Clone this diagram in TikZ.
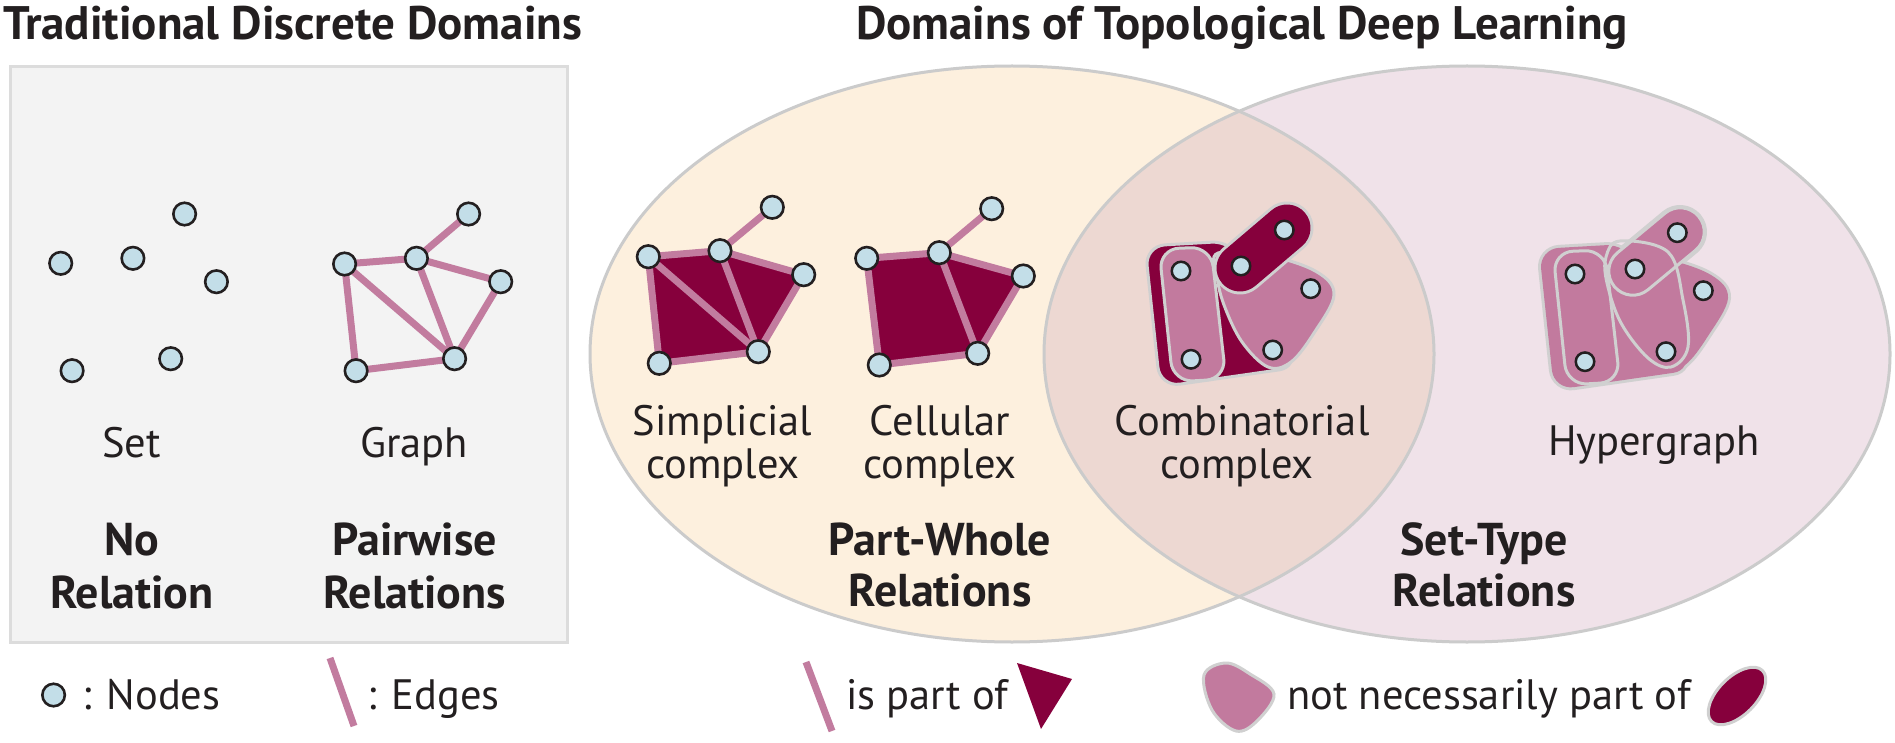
\documentclass[tikz,border=0pt]{standalone}
\usepackage{fontspec}
\setmainfont{PT Sans}
\pgfdeclarelayer{back}
\pgfdeclarelayer{mid}
\pgfsetlayers{back,mid,main}
\definecolor{txt}{HTML}{231F20}
\definecolor{nodefill}{HTML}{C3DEE8}
\definecolor{nodeline}{HTML}{231F20}
\definecolor{edgepink}{HTML}{C27C9F}
\definecolor{pinkc}{HTML}{C27A9E}
\definecolor{maroonc}{HTML}{86003C}
\definecolor{outl}{HTML}{D0D0D0}
\definecolor{boxfill}{HTML}{F3F3F3}
\definecolor{boxline}{HTML}{DCDCDC}
\definecolor{peach}{HTML}{FDF0DE}
\definecolor{lilac}{HTML}{F0E2E9}
\definecolor{overlapc}{HTML}{EDD8D2}
\definecolor{venline}{HTML}{CBCBCB}
\begin{document}
\begin{tikzpicture}[x=1pt,y=-1pt,
  vtx/.style={circle,draw=nodeline,line width=2.6pt,fill=nodefill,minimum size=22.5pt,inner sep=0pt},
  svtx/.style={vtx,minimum size=18.5pt,line width=2.5pt},
  edg/.style={draw=edgepink,line width=7pt},
  shp/.style={draw=outl,line width=3pt},
  lbl/.style={font=\fontsize{42.5}{44}\selectfont,text=txt,inner sep=0pt,anchor=base},
  bld/.style={font=\fontsize{46}{52}\selectfont\bfseries,text=txt,inner sep=0pt,anchor=base},
  ttl/.style={font=\fontsize{47}{52}\selectfont\bfseries,text=txt,inner sep=0pt,anchor=base},
]
\useasboundingbox (0,0) rectangle (1895,743);

% ---------------- background: box and Venn ----------------
\begin{pgfonlayer}{back}
  \fill[white] (0,0) rectangle (1895,743);
  \draw[boxline,fill=boxfill,line width=3pt] (10,67) rectangle (567,642);
  \fill[peach] (1012,354) ellipse [x radius=422, y radius=288];
  \fill[lilac] (1467,354) ellipse [x radius=423, y radius=288];
  \begin{scope}
    \clip (1012,354) ellipse [x radius=422, y radius=288];
    \fill[overlapc] (1467,354) ellipse [x radius=423, y radius=288];
  \end{scope}
  \draw[venline,line width=3pt] (1012,354) ellipse [x radius=422, y radius=288];
  \draw[venline,line width=3pt] (1467,354) ellipse [x radius=423, y radius=288];
\end{pgfonlayer}

% ---------------- titles ----------------
\node[ttl,anchor=base west] (t1) at (3,40) {Traditional Discrete Domains};
\node[ttl] (t2) at (1242,40) {Domains of Topological Deep Learning};

% ---------------- Set ----------------
\node[vtx] (s1) at (60.7,263.3) {};
\node[vtx] (s2) at (132.9,258.3) {};
\node[vtx] (s3) at (184.6,214) {};
\node[vtx] (s4) at (216.4,281.7) {};
\node[vtx] (s5) at (72.1,370.7) {};
\node[vtx] (s6) at (170.7,358.7) {};

% ---------------- Graph ----------------
\node[vtx] (g1) at (344.6,264) {};
\node[vtx] (g2) at (416.4,258.3) {};
\node[vtx] (g3) at (468.6,214) {};
\node[vtx] (g4) at (500.7,281.7) {};
\node[vtx] (g5) at (356.1,370.7) {};
\node[vtx] (g6) at (454.6,358.7) {};
\begin{pgfonlayer}{mid}
  \draw[edg] (g1.center) -- (g2.center);
  \draw[edg] (g2.center) -- (g3.center);
  \draw[edg] (g2.center) -- (g4.center);
  \draw[edg] (g1.center) -- (g6.center);
  \draw[edg] (g2.center) -- (g6.center);
  \draw[edg] (g4.center) -- (g6.center);
  \draw[edg] (g1.center) -- (g5.center);
  \draw[edg] (g5.center) -- (g6.center);
\end{pgfonlayer}

% ---------------- Simplicial complex ----------------
\node[vtx] (p1) at (648.3,256.7) {};
\node[vtx] (p2) at (720,250.7) {};
\node[vtx] (p3) at (772.3,207.3) {};
\node[vtx] (p4) at (803.7,274.7) {};
\node[vtx] (p5) at (659.3,363.3) {};
\node[vtx] (p6) at (758.3,351.7) {};
\begin{pgfonlayer}{mid}
  \fill[maroonc] (p1.center) -- (p2.center) -- (p4.center) -- (p6.center) -- (p5.center) -- cycle;
  \draw[edg] (p1.center) -- (p2.center);
  \draw[edg] (p2.center) -- (p3.center);
  \draw[edg] (p2.center) -- (p4.center);
  \draw[edg] (p4.center) -- (p6.center);
  \draw[edg] (p6.center) -- (p5.center);
  \draw[edg] (p5.center) -- (p1.center);
  \draw[edg] (p1.center) -- (p6.center);
  \draw[edg] (p2.center) -- (p6.center);
\end{pgfonlayer}

% ---------------- Cellular complex ----------------
\node[vtx] (c1) at (866.7,258.3) {};
\node[vtx] (c2) at (939.3,252.7) {};
\node[vtx] (c3) at (991.7,208.7) {};
\node[vtx] (c4) at (1023.3,276) {};
\node[vtx] (c5) at (879.3,365) {};
\node[vtx] (c6) at (977.7,353.3) {};
\begin{pgfonlayer}{mid}
  \fill[maroonc] (c1.center) -- (c2.center) -- (c4.center) -- (c6.center) -- (c5.center) -- cycle;
  \draw[edg] (c1.center) -- (c2.center);
  \draw[edg] (c2.center) -- (c3.center);
  \draw[edg] (c2.center) -- (c4.center);
  \draw[edg] (c4.center) -- (c6.center);
  \draw[edg] (c6.center) -- (c5.center);
  \draw[edg] (c5.center) -- (c1.center);
  \draw[edg] (c2.center) -- (c6.center);
\end{pgfonlayer}

% ---------------- Combinatorial complex ----------------
\coordinate (ka) at (1240,268);
\coordinate (kb) at (1287,228);
\begin{pgfonlayer}{mid}
  \draw[shp,fill=maroonc,rounded corners=20pt] (1145,246) -- (1232,241) -- (1299,367) -- (1160,387) -- cycle;
  \draw[shp,fill=pinkc,rounded corners=20pt] (1159,249) -- (1211,247) -- (1226,379) -- (1173,382) -- cycle;
  \draw[shp,fill=pinkc] plot[smooth cycle,tension=0.6] coordinates {(1218,253) (1270,256) (1317,272) (1334,295) (1314,333) (1291,362) (1268,367) (1242,342) (1224,305) (1217,276)};
  \draw[outl,line width=53pt,line cap=round] (ka) -- (kb);
  \draw[maroonc,line width=47pt,line cap=round] (ka) -- (kb);
\end{pgfonlayer}
\node[svtx] (k1) at (1284.3,230) {};
\node[svtx] (k2) at (1241,266) {};
\node[svtx] (k3) at (1181,271) {};
\node[svtx] (k4) at (1310.7,288.7) {};
\node[svtx] (k5) at (1272.7,350) {};
\node[svtx] (k6) at (1191,359.3) {};

% ---------------- Hypergraph ----------------
\coordinate (ha) at (1633,271);
\coordinate (hb) at (1680,232);
\begin{pgfonlayer}{mid}
  \begin{scope}[shift={(394,3)}]
    \draw[outl,line width=6pt,rounded corners=20pt] (1145,246) -- (1232,241) -- (1299,367) -- (1160,387) -- cycle;
    \draw[outl,line width=6pt] plot[smooth cycle,tension=0.6] coordinates {(1218,253) (1270,256) (1317,272) (1334,295) (1314,333) (1291,362) (1268,367) (1242,342) (1224,305) (1217,276)};
  \end{scope}
  \draw[outl,line width=54pt,line cap=round] (ha) -- (hb);
  \begin{scope}[shift={(394,3)}]
    \fill[pinkc,rounded corners=20pt] (1145,246) -- (1232,241) -- (1299,367) -- (1160,387) -- cycle;
    \fill[pinkc] plot[smooth cycle,tension=0.6] coordinates {(1218,253) (1270,256) (1317,272) (1334,295) (1314,333) (1291,362) (1268,367) (1242,342) (1224,305) (1217,276)};
  \end{scope}
  \draw[pinkc,line width=48pt,line cap=round] (ha) -- (hb);
  % inner hyperedges
  \draw[shp,rotate around={39.7:(1656.5,251.5)},rounded corners=23.9pt] (1601.7,227.5) rectangle (1711.3,275.5);
  \draw[shp] plot[smooth cycle,tension=0.6] coordinates {(1620,241) (1668,252) (1683,300) (1688,347) (1671,367) (1648,358) (1621,323) (1607,283) (1606,257)};
  \begin{scope}[shift={(394,3)}]
    \draw[shp,rounded corners=20pt] (1159,249) -- (1211,247) -- (1226,379) -- (1173,382) -- cycle;
  \end{scope}
\end{pgfonlayer}
\node[svtx] (h1) at (1677.3,232.7) {};
\node[svtx] (h2) at (1635,269) {};
\node[svtx] (h3) at (1575,274) {};
\node[svtx] (h4) at (1703.3,290.7) {};
\node[svtx] (h5) at (1666,351.7) {};
\node[svtx] (h6) at (1585,361.7) {};

% ---------------- labels ----------------
\node[lbl] (lset) at (131.5,457) {Set};
\node[lbl] (lgraph) at (414,457) {Graph};
\node[bld] (lno) at (132,555) {No};
\node[bld] (lrel1) at (132,608) {Relation};
\node[bld] (lpair) at (414.5,555) {Pairwise};
\node[bld] (lrel2) at (414.5,608) {Relations};
\node[lbl] (lsimp) at (722.5,435) {Simplicial};
\node[lbl] (lsimp2) at (723,478) {complex};
\node[lbl] (lcell) at (940,435) {Cellular};
\node[lbl] (lcell2) at (940,478) {complex};
\node[lbl] (lcomb) at (1242,435) {Combinatorial};
\node[lbl] (lcomb2) at (1237,478) {complex};
\node[lbl] (lhyp) at (1654,455) {Hypergraph};
\node[bld] (lpw) at (940,555) {Part-Whole};
\node[bld] (lrel3) at (940,606) {Relations};
\node[bld] (lst) at (1484,555) {Set-Type};
\node[bld] (lrel4) at (1484,606) {Relations};

% ---------------- legend ----------------
\node[vtx] (lgn) at (53.6,695) {};
\node[lbl,anchor=base west] (lgnt) at (82,709) {: Nodes};
\coordinate (le1) at (330,658);
\coordinate (le2) at (354,726);
\draw[edg] (le1) -- (le2);
\node[lbl,anchor=base west] (lget) at (367,709) {: Edges};
\coordinate (lp1) at (806,662);
\coordinate (lp2) at (832,731);
\draw[edg] (lp1) -- (lp2);
\node[lbl,anchor=base west] (lpt) at (846,709) {is part of};
\fill[maroonc] (1017,663) -- (1072,679) -- (1041,729) -- cycle;
\draw[shp,fill=pinkc] plot[smooth cycle,tension=0.6] coordinates {(1226,663) (1250,674) (1274,694) (1257,721) (1236,731) (1212,710) (1204,675)};
\node[lbl,anchor=base west] (lnt) at (1287,709) {not necessarily part of};
\draw[shp,fill=maroonc,rotate around={45:(1737,696)}] (1737,696) ellipse [x radius=36, y radius=19];
\end{tikzpicture}
\end{document}
